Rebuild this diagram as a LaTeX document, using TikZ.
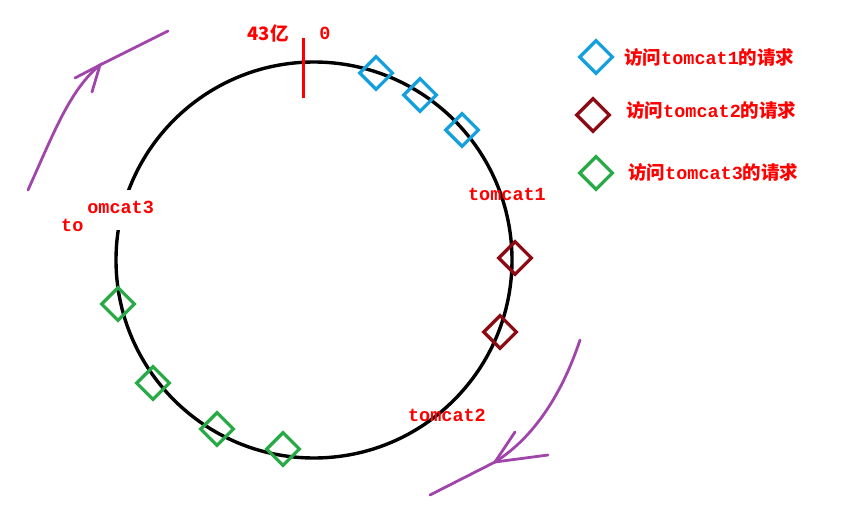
\documentclass[tikz,border=0pt]{standalone}
\usepackage{fontspec}
\newfontfamily\cjk{Noto Sans CJK SC}
\newfontfamily\mono{Liberation Mono}
\begin{document}
\begin{tikzpicture}[x=1pt,y=-1pt,
  dia/.style={draw=#1,line width=3.2pt,minimum size=23pt,inner sep=0pt,shape=rectangle,rotate=45},
  lab/.style={text=red,font=\mono\bfseries\fontsize{18.5}{18.5}\selectfont,inner sep=0pt},
  leg/.style={text=red,font=\fontsize{18.5}{18.5}\selectfont,inner sep=0pt,anchor=west},
  parr/.style={draw=purple!70!violet,line width=2.8pt,line cap=round}]
\useasboundingbox (0,0) rectangle (847,527);
\definecolor{cblue}{RGB}{20,160,220}
\definecolor{cred}{RGB}{140,10,20}
\definecolor{cgreen}{RGB}{40,170,70}
\definecolor{cpur}{RGB}{160,70,170}
\node[circle,draw,line width=3.4pt,minimum size=396pt,inner sep=0pt] (ring) at (314,260) {};
\fill[white] (86,190) rectangle (160,230);
\begin{scope}
\clip (88,190) rectangle (170,225);
\node[lab,anchor=west] (t3) at (76,207) {tomcat3};
\end{scope}
\node[lab,anchor=west] (t3b) at (61,225) {to};
\draw[red,line width=3pt] (303,38) -- (303,98);
\node[lab,font=\cjk\bfseries\fontsize{18.5}{18.5}\selectfont] (z1) at (268,33) {43亿};
\node[lab] (z0) at (325,33) {0};
\node[lab] (t1) at (507,194) {tomcat1};
\node[lab] (t2) at (447,415) {tomcat2};
\foreach \p/\c [count=\i] in {{376,73}/cblue,{420,95}/cblue,{462,130}/cblue,{515,258}/cred,{500,332}/cred,{118,304}/cgreen,{153,383}/cgreen,{217,429}/cgreen,{283,449}/cgreen}
  \node[dia=\c] (d\i) at (\p) {};
\node[dia=cblue] (l1) at (596,57) {};
\node[dia=cred] (l2) at (593,115) {};
\node[dia=cgreen] (l3) at (596,173) {};
\node[leg,font=\cjk\bfseries\fontsize{18.5}{18.5}\selectfont] at (624,57) {访问\mono\bfseries tomcat1\cjk\bfseries 的请求};
\node[leg,font=\cjk\bfseries\fontsize{18.5}{18.5}\selectfont] at (626,110) {访问\mono\bfseries tomcat2\cjk\bfseries 的请求};
\node[leg,font=\cjk\bfseries\fontsize{18.5}{18.5}\selectfont] at (628,172) {访问\mono\bfseries tomcat3\cjk\bfseries 的请求};
\coordinate (a1) at (28,190); \coordinate (a2) at (100,65); \coordinate (a3) at (168,31);
\draw[parr,draw=cpur] (a1) .. controls (55,130) and (70,90) .. (a2) -- (a3);
\draw[parr,draw=cpur] (75,78) -- (a2) -- (92,92);
\coordinate (b1) at (580,340); \coordinate (b2) at (495,462); \coordinate (b3) at (430,495);
\draw[parr,draw=cpur] (b1) .. controls (560,400) and (530,440) .. (b2) -- (b3);
\draw[parr,draw=cpur] (548,455) -- (b2) -- (515,432);
\end{tikzpicture}
\end{document}
